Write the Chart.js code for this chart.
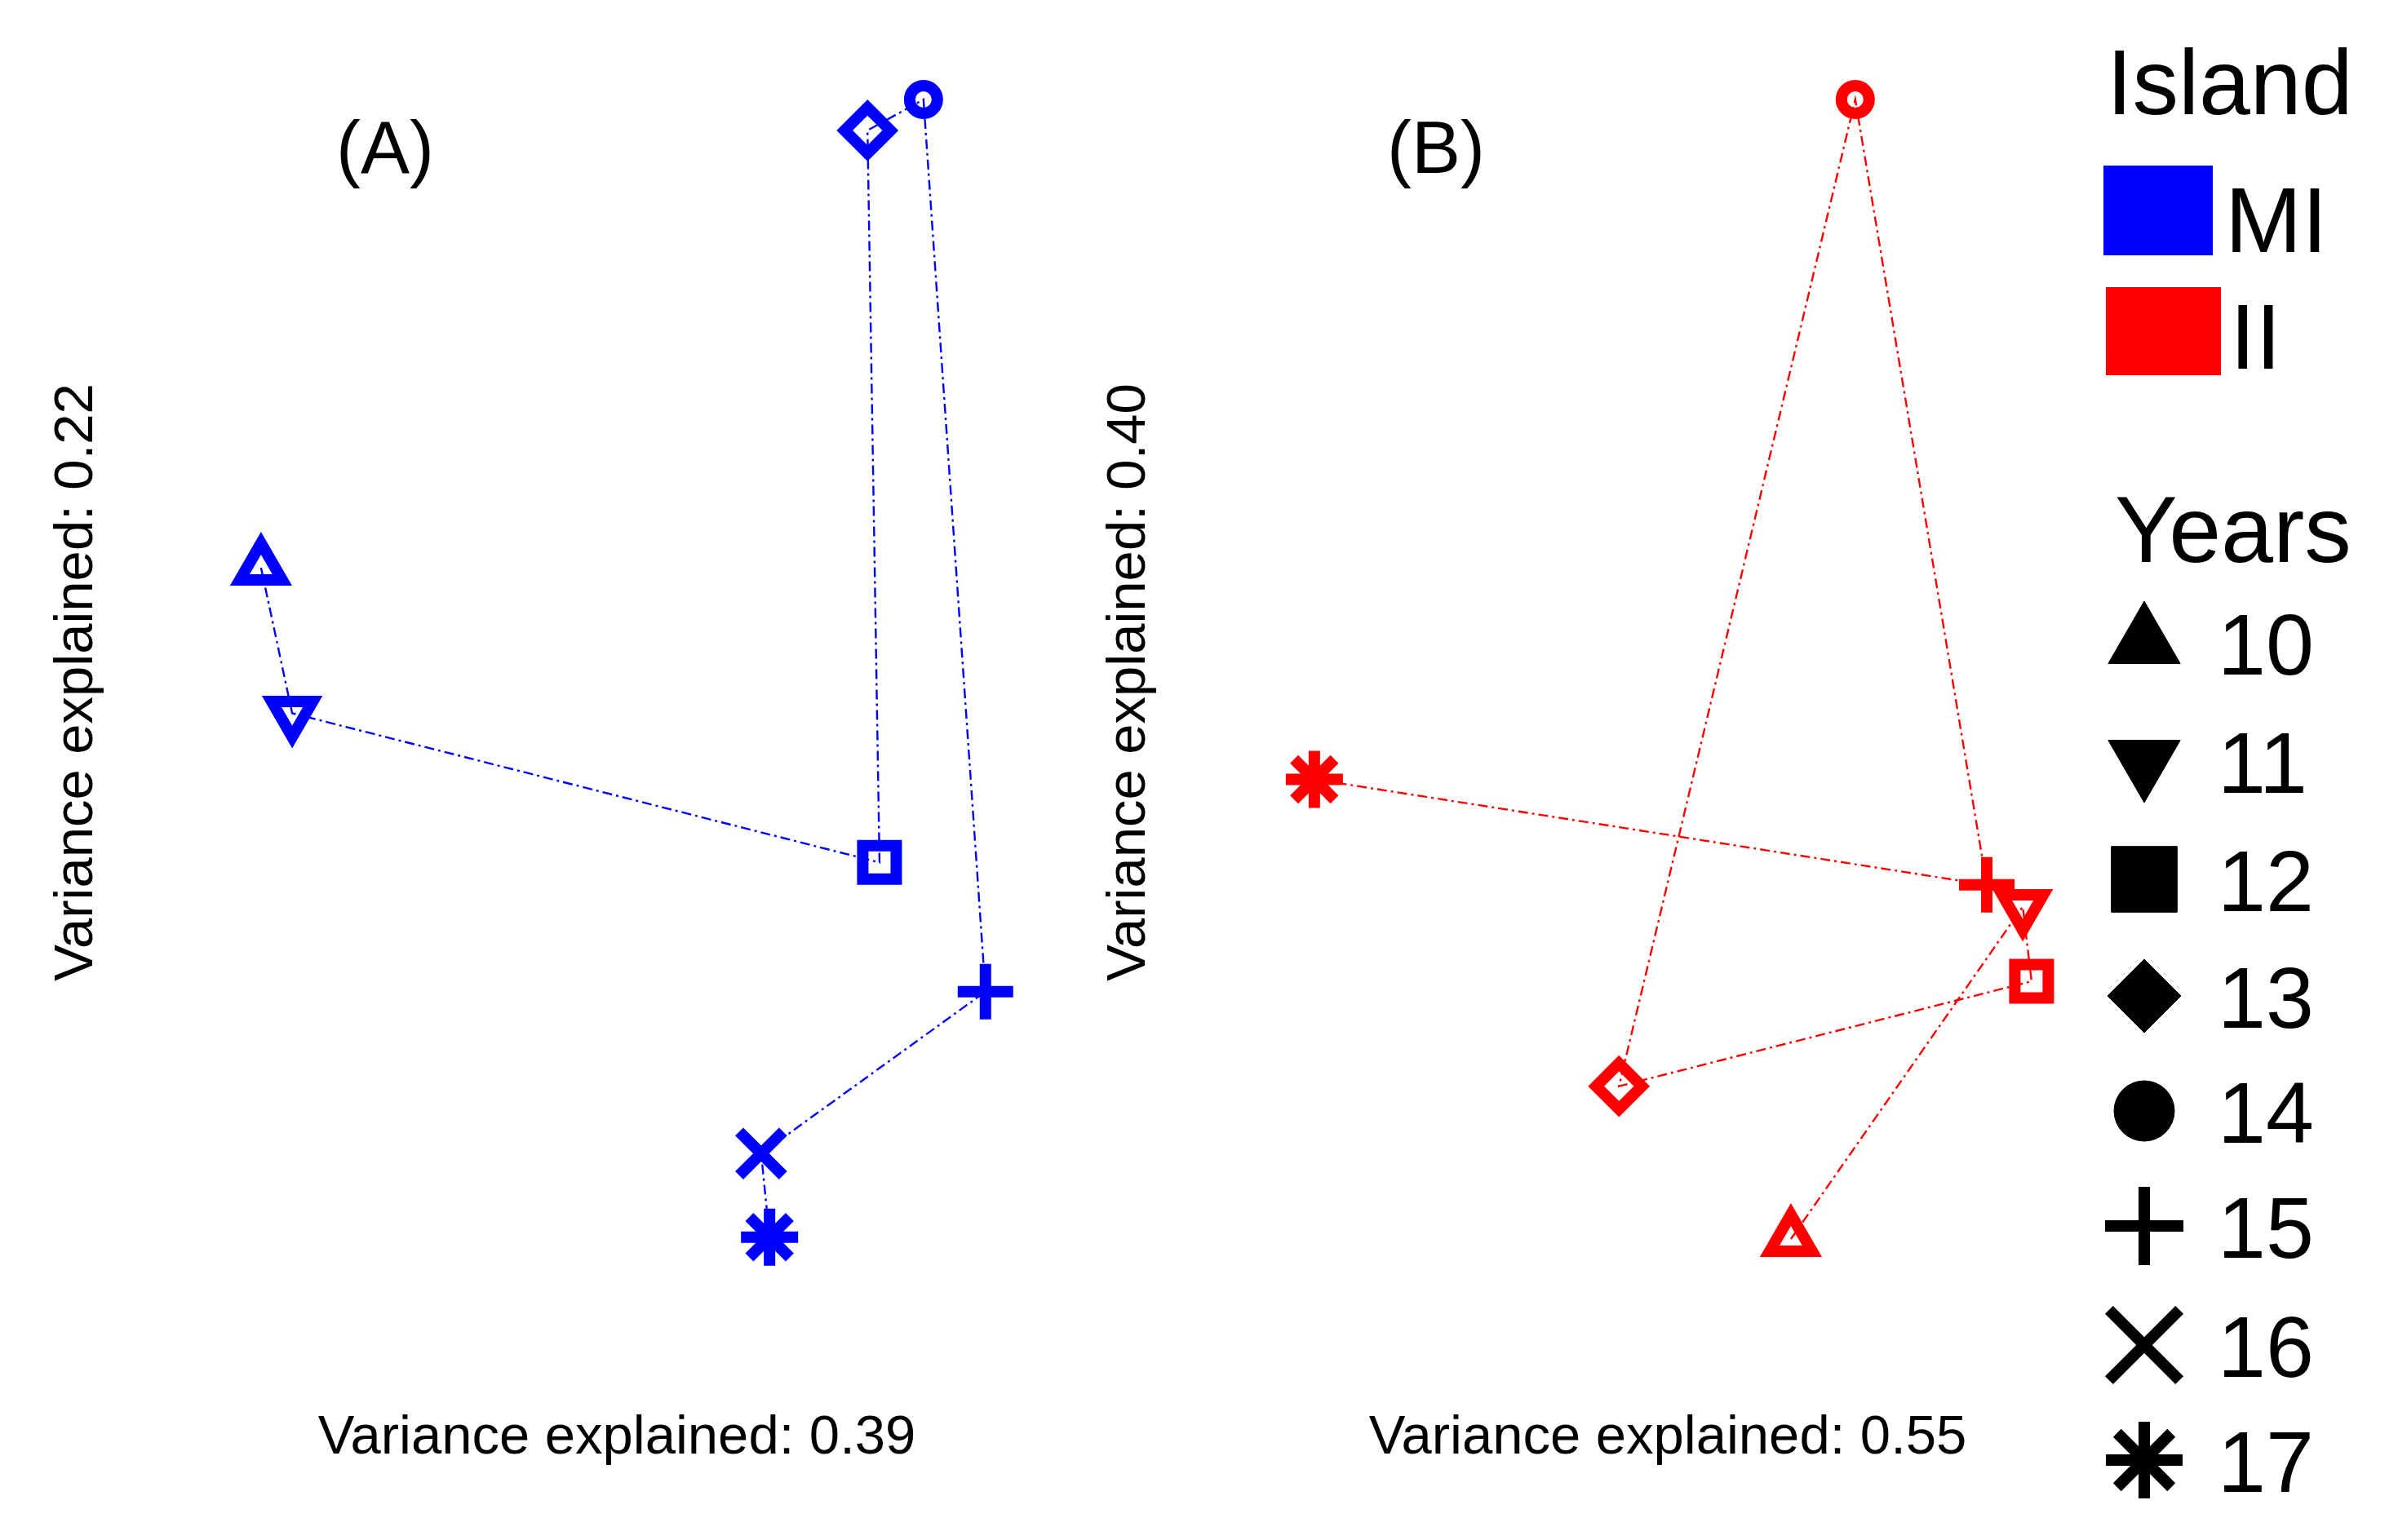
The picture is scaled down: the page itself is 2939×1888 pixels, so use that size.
<!DOCTYPE html>
<html>
<head>
<meta charset="utf-8">
<script src="https://cdn.jsdelivr.net/npm/chart.js@4/dist/chart.umd.min.js"></script>
<style>
	html, body { margin: 0; padding: 0; background: #fff; }
	#pagina { position: relative; width: 2939px; height: 1888px; overflow: hidden; font-family: "Liberation Sans", Arial, sans-serif; color: #000; }
	#pagina canvas { position: absolute; top: 0; }
	.texto { position: absolute; line-height: 1; white-space: nowrap; }
	.caixa { position: absolute; }
</style>
</head>
<body>
<div id="pagina">
	<canvas id="graficoA" width="1300" height="1888" style="left:0;width:1300px;height:1888px"></canvas>
	<canvas id="graficoB" width="1290" height="1888" style="left:1300px;width:1290px;height:1888px"></canvas>
	<div class="texto" style="left:412px;top:136px;font-size:90px">(A)</div>
	<div class="texto" style="left:1700px;top:136px;font-size:90px">(B)</div>
	<div id="legenda"></div>
</div>
<script>
// valores (escala relativa de cada painel, -1 a 1)
const anos = ['10', '11', '12', '13', '14', '15', '16', '17'];
const eixoXA = [-0.890, -0.812, 0.657, 0.627, 0.767, 0.922, 0.361, 0.382];
const eixoYA = [0.189, -0.051, -0.297, 0.910, 0.961, -0.510, -0.777, -0.915];
const eixoXB = [0.308, 0.888, 0.910, -0.122, 0.469, 0.798, null, -0.884];
const eixoYB = [-0.918, -0.370, -0.493, -0.666, 0.961, -0.334, null, -0.160];
const ilhas = ['MI', 'II'];
const coresIlhas = ['#0000ff', '#ff0000'];
const varianciaXA = 'Variance explained: 0.39';
const varianciaYA = 'Variance explained: 0.22';
const varianciaXB = 'Variance explained: 0.55';
const varianciaYB = 'Variance explained: 0.40';

var Pca = Pca || {};

Pca.simbolos = {
	'10': { estilo: 'triangle', rotacao: 0, raio: 30, raioLegenda: 51 },
	'11': { estilo: 'triangle', rotacao: 180, raio: 29, raioLegenda: 51 },
	'12': { estilo: 'rect', rotacao: 0, raio: 29, raioLegenda: 57 },
	'13': { estilo: 'rectRot', rotacao: 0, raio: 28, raioLegenda: 45 },
	'14': { estilo: 'circle', rotacao: 0, raio: 17, raioLegenda: 37 },
	'15': { estilo: 'cross', rotacao: 0, raio: 34, raioLegenda: 48 },
	'16': { estilo: 'crossRot', rotacao: 0, raio: 38, raioLegenda: 61 },
	'17': { estilo: 'star', rotacao: 0, raio: 35, raioLegenda: 47 }
};

Pca.Painel = (function() {

	function Painel(id, xs, ys, cor, tituloX, tituloY, layout) {
		this.ctx = document.getElementById(id).getContext('2d');
		this.xs = xs;
		this.ys = ys;
		this.cor = cor;
		this.tituloX = tituloX;
		this.tituloY = tituloY;
		this.layout = layout;
	}

	Painel.prototype.iniciar = function() {
		let pontos = anos.map((ano, i) => ({ x: this.xs[i], y: this.ys[i] }));
		let fonte = { family: 'Liberation Sans', size: 67 };

		new Chart(this.ctx, {
			type: 'scatter',
			data: {
				datasets: [{
					data: pontos,
					showLine: true,
					spanGaps: true,
					clip: false,
					borderColor: this.cor,
					borderWidth: 2.4,
					borderDash: [12, 5, 3, 5],
					pointStyle: anos.map(a => Pca.simbolos[a].estilo),
					pointRotation: anos.map(a => Pca.simbolos[a].rotacao),
					pointRadius: anos.map(a => Pca.simbolos[a].raio),
					pointHoverRadius: anos.map(a => Pca.simbolos[a].raio),
					pointBorderColor: this.cor,
					pointBorderWidth: 14,
					pointBackgroundColor: 'rgba(0,0,0,0)'
				}]
			},
			options: {
				responsive: false,
				animation: false,
				devicePixelRatio: 1,
				events: [],
				layout: { padding: { top: 93, right: this.layout.direita, bottom: 0, left: 0 } },
				plugins: { legend: { display: false }, tooltip: { enabled: false } },
				scales: {
					x: {
						type: 'linear', min: -1, max: 1,
						grid: { display: false, drawTicks: false },
						border: { display: false },
						ticks: { display: false },
						title: { display: true, text: this.tituloX, color: '#000', font: fonte, padding: { top: 143.6, bottom: 84 } }
					},
					y: {
						type: 'linear', min: -1, max: 1,
						grid: { display: false, drawTicks: false },
						border: { display: false },
						ticks: { display: false },
						title: { display: true, text: this.tituloY, color: '#000', font: fonte, padding: this.layout.paddingY }
					}
				}
			}
		});
	};

	return Painel;

}());

Pca.Legenda = (function() {

	function Legenda() {
		this.el = document.getElementById('legenda');
	}

	function texto(el, conteudo, left, top, tamanho) {
		let d = document.createElement('div');
		d.className = 'texto';
		d.style.left = left + 'px';
		d.style.top = top + 'px';
		d.style.fontSize = tamanho + 'px';
		d.textContent = conteudo;
		el.appendChild(d);
	}

	Legenda.prototype.iniciar = function() {
		texto(this.el, 'Island', 2582, 45, 113);

		let caixas = [[2578, 203, 134, 110], [2581, 352, 141, 108]];
		let topos = [214, 357];
		let lefts = [2727, 2733];
		ilhas.forEach((ilha, i) => {
			let c = document.createElement('div');
			c.className = 'caixa';
			c.style.left = caixas[i][0] + 'px';
			c.style.top = caixas[i][1] + 'px';
			c.style.width = caixas[i][2] + 'px';
			c.style.height = caixas[i][3] + 'px';
			c.style.background = coresIlhas[i];
			this.el.appendChild(c);
			texto(this.el, ilha, lefts[i], topos[i], 113);
		});

		texto(this.el, 'Years', 2592, 592, 115);

		let centros = [788, 933, 1078, 1221, 1362, 1503, 1649, 1790];
		let centroX = 2628;
		anos.forEach((ano, i) => {
			let cv = document.createElement('canvas');
			cv.width = 140; cv.height = 140;
			cv.style.left = (centroX - 70) + 'px';
			cv.style.top = (centros[i] - 70) + 'px';
			cv.style.width = '140px'; cv.style.height = '140px';
			this.el.appendChild(cv);
			let ctx = cv.getContext('2d');
			let s = Pca.simbolos[ano];
			let linha = (s.estilo === 'cross' || s.estilo === 'crossRot' || s.estilo === 'star');
			ctx.fillStyle = '#000';
			ctx.strokeStyle = '#000';
			ctx.lineWidth = linha ? 14 : 1;
			Chart.helpers.drawPoint(ctx, {
				pointStyle: s.estilo,
				rotation: s.rotacao,
				radius: s.raioLegenda,
				borderWidth: ctx.lineWidth
			}, 70, 70);
			texto(this.el, ano, 2718, centros[i] - 51, 106);
		});
	};

	return Legenda;

}());

document.addEventListener('DOMContentLoaded', function() {

	let painelA = new Pca.Painel('graficoA', eixoXA, eixoYA, coresIlhas[0], varianciaXA, varianciaYA,
		{ direita: 54, paddingY: { top: 54, bottom: 131.6 } });
	painelA.iniciar();

	let painelB = new Pca.Painel('graficoB', eixoXB, eixoYB, coresIlhas[1], varianciaXB, varianciaYB,
		{ direita: 56, paddingY: { top: 44.8, bottom: 128.8 } });
	painelB.iniciar();

	let legenda = new Pca.Legenda();
	legenda.iniciar();

});
</script>
</body>
</html>
